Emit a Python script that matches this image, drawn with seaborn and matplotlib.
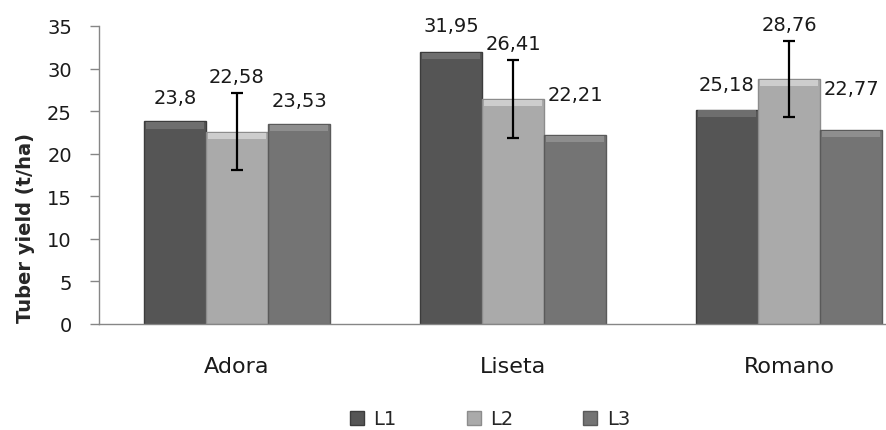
# Tuber yield by variety and level - grouped bar chart
import pandas as pd
import numpy as np
import matplotlib
matplotlib.use("Agg")
import matplotlib.pyplot as plt
import seaborn as sns
from matplotlib.patches import Patch, Rectangle

# ============================================
# Data
# ============================================

varieties = ["Adora", "Liseta", "Romano"]
levels = ["L1", "L2", "L3"]

yield_l1 = [23.80, 31.95, 25.18]
yield_l2 = [22.58, 26.41, 28.76]
yield_l3 = [23.53, 22.21, 22.77]

# error bars are only shown for L2
err_l2 = [4.55, 4.55, 4.45]

value_labels = {
    "L1": ["23,8", "31,95", "25,18"],
    "L2": ["22,58", "26,41", "28,76"],
    "L3": ["23,53", "22,21", "22,77"],
}

# extra lift of each label above its bar / error bar (points)
label_lift = {
    "L1": [10, 12, 11],
    "L2": [5, 5, 5],
    "L3": [10, 22, 23],
}

bar_colors = ["#555555", "#aaaaaa", "#747474"]
edge_colors = ["#3c3c3c", "#8c8c8c", "#5a5a5a"]
top_colors = ["#6e6e6e", "#cdcdcd", "#8e8e8e"]

df = pd.DataFrame({
    "Variety": varieties * 3,
    "Level": [lv for lv in levels for _ in varieties],
    "Yield": yield_l1 + yield_l2 + yield_l3,
})

# ============================================
# Plot
# ============================================

sns.set_style("white")
plt.rcParams["font.family"] = ["DejaVu Sans"]

fig = plt.figure(figsize=(8.86, 4.31), dpi=100)
ax = fig.add_axes([99 / 886, 106 / 431, 828 / 886, 298 / 431])

sns.barplot(
    data=df,
    x="Variety",
    y="Yield",
    hue="Level",
    hue_order=levels,
    palette=bar_colors,
    width=0.674,
    errorbar=None,
    saturation=1,
    legend=False,
    ax=ax,
)

# simple bevel look: darker outline + lighter band on top
for container, ec, tc in zip(ax.containers, edge_colors, top_colors):
    for bar in container:
        bar.set_edgecolor(ec)
        bar.set_linewidth(1.0)
        inset = bar.get_width() * 0.04
        band = Rectangle(
            (bar.get_x() + inset, bar.get_height() - 0.85),
            bar.get_width() - 2 * inset, 0.75,
            facecolor=tc, edgecolor="none", zorder=bar.get_zorder() + 0.1,
        )
        ax.add_patch(band)

# error bars on L2
l2_x = [b.get_x() + b.get_width() / 2 for b in ax.containers[1]]
ax.errorbar(
    l2_x, yield_l2, yerr=err_l2,
    fmt="none", ecolor="black", elinewidth=1.6,
    capsize=4.5, capthick=1.6, zorder=5,
)

# value labels
for i, lv in enumerate(levels):
    for j, bar in enumerate(ax.containers[i]):
        top = bar.get_height()
        if lv == "L2":
            top = yield_l2[j] + err_l2[j]
        ax.annotate(
            value_labels[lv][j],
            (bar.get_x() + bar.get_width() / 2, top),
            xytext=(0, label_lift[lv][j]),
            textcoords="offset points",
            ha="center", va="bottom",
            fontsize=14, color="#1a1a1a",
        )

# axes styling
ax.set_ylim(0, 35)
ax.set_yticks(np.arange(0, 36, 5))
ax.set_xlim(-0.5, 2.5)
ax.set_xticks(range(3))
ax.set_xticklabels(varieties)
ax.set_xticks([-0.5, 0.5, 1.5, 2.5], minor=True)
ax.tick_params(axis="x", which="major", length=0, pad=23, labelsize=16,
               labelcolor="#1a1a1a")
ax.tick_params(axis="x", which="minor", length=6, color="#868686", width=1)
ax.tick_params(axis="y", length=6.5, color="#868686", width=1, labelsize=14,
               left=True, pad=13, labelcolor="#1a1a1a")

ax.set_xlabel("")
ax.set_ylabel("Tuber yield (t/ha)", fontsize=14, fontweight="bold")
ax.yaxis.set_label_coords(-0.077, 0.3255)

for side in ["top", "right"]:
    ax.spines[side].set_visible(False)
for side in ["left", "bottom"]:
    ax.spines[side].set_color("#868686")
    ax.spines[side].set_linewidth(1)

# legend at bottom
handles = [
    Patch(facecolor=c, edgecolor=e, label=l)
    for c, e, l in zip(bar_colors, edge_colors, levels)
]
fig.legend(
    handles=handles,
    loc="center",
    bbox_to_anchor=(490 / 886, 1 - 420 / 431),
    ncol=3,
    frameon=False,
    fontsize=14,
    handlelength=0.72,
    handleheight=0.72,
    handletextpad=0.5,
    columnspacing=3.6,
)

plt.savefig("out.png", dpi=100)
